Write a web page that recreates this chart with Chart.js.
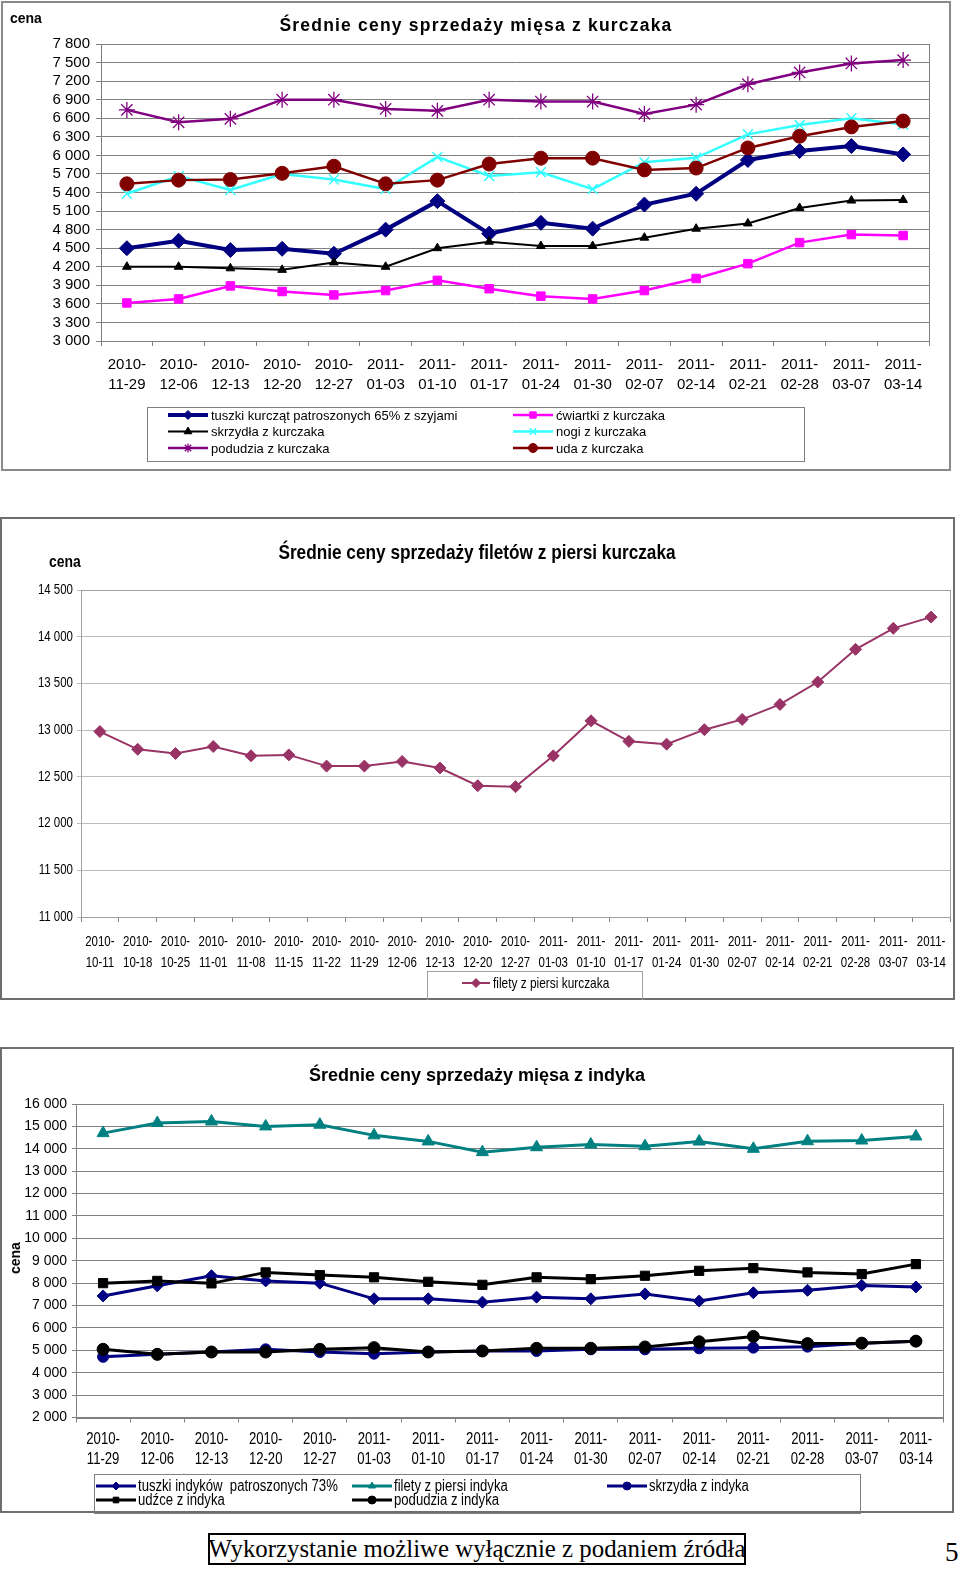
<!DOCTYPE html>
<html>
<head>
<meta charset="utf-8">
<script src="https://cdn.jsdelivr.net/npm/chart.js@4.4.1/dist/chart.umd.min.js"></script>
<style>
  body { margin: 0; background: #fff; }
  #page { position: relative; width: 960px; height: 1571px; overflow: hidden; font-family: "Liberation Sans", Arial, sans-serif; }
  canvas, .txt, .panel { position: absolute; }
  .panel { box-sizing: border-box; border: 2px solid #6e6e6e; }
  .txt { white-space: nowrap; color: #000; line-height: 1; }
  .ttl { font-weight: bold; transform: translate(-50%, -50%); }
  #foot { left: 208px; top: 1533px; width: 538px; height: 32px; box-sizing: border-box; border: 2px solid #000; }
  #foot span { position: absolute; left: 50%; top: 50%; transform: translate(-50%, -50%) scaleX(0.955);
          font-family: "Liberation Serif", "Times New Roman", serif; font-size: 26px; }
</style>
</head>
<body>
<div id="page">
  <div class="panel" style="left:1px;top:1px;width:950px;height:470px;border-color:#8a8a8a"></div>
  <div class="panel" style="left:0px;top:517px;width:955px;height:483px"></div>
  <div class="panel" style="left:0px;top:1047px;width:954px;height:466px"></div>

  <canvas id="c1" width="960" height="475" style="left:0;top:0"></canvas>
  <canvas id="c2" width="960" height="485" style="left:0;top:515px"></canvas>
  <canvas id="c3" width="960" height="470" style="left:0;top:1045px"></canvas>

  <div class="txt" style="left:10px;top:11px;font-size:14px;font-weight:bold">cena</div>
  <div class="txt ttl" style="left:476px;top:26px;font-size:17.5px;letter-spacing:1.2px">Średnie ceny sprzedaży mięsa z kurczaka</div>

  <div class="txt" style="left:49px;top:553px;font-size:17px;font-weight:bold;transform:scaleX(0.82);transform-origin:0 0">cena</div>
  <div class="txt ttl" style="left:477px;top:551px;font-size:21px;transform:translate(-50%,-50%) scaleX(0.82)">Średnie ceny sprzedaży filetów z piersi kurczaka</div>

  <div class="txt" style="left:15px;top:1258px;font-size:14px;font-weight:bold;transform:translate(-50%,-50%) rotate(-90deg)">cena</div>
  <div class="txt ttl" style="left:477px;top:1075px;font-size:18px">Średnie ceny sprzedaży mięsa z indyka</div>

  <div class="txt" id="foot"><span>Wykorzystanie możliwe wyłącznie z podaniem źródła</span></div>
  <div class="txt" style="left:945px;top:1539px;font-family:'Liberation Serif',serif;font-size:27px">5</div>
</div>
<script>
// ---- data ----
const weeksShort = ['2010-11-29','2010-12-06','2010-12-13','2010-12-20','2010-12-27','2011-01-03','2011-01-10','2011-01-17',
  '2011-01-24','2011-01-30','2011-02-07','2011-02-14','2011-02-21','2011-02-28','2011-03-07','2011-03-14'];
const weeksLong = ['2010-10-11','2010-10-18','2010-10-25','2010-11-01','2010-11-08','2010-11-15','2010-11-22','2010-11-29',
  '2010-12-06','2010-12-13','2010-12-20','2010-12-27','2011-01-03','2011-01-10','2011-01-17','2011-01-24','2011-01-30',
  '2011-02-07','2011-02-14','2011-02-21','2011-02-28','2011-03-07','2011-03-14'];

// chicken
const tuszkiKurczat = [4500,4620,4470,4490,4410,4800,5260,4735,4910,4815,5205,5380,5925,6070,6150,6015];
const cwiartki = [3615,3680,3890,3800,3745,3815,3980,3845,3725,3680,3815,4010,4250,4590,4720,4705];
const skrzydlaKurczak = [4200,4200,4175,4150,4270,4200,4500,4605,4535,4535,4670,4815,4900,5150,5270,5280];
const nogi = [5380,5665,5440,5700,5610,5455,5975,5668,5727,5455,5890,5960,6340,6490,6600,6500];
const podudziaKurczak = [6735,6535,6590,6900,6900,6750,6720,6900,6870,6870,6670,6820,7150,7340,7485,7540];
const uda = [5540,5600,5610,5710,5825,5540,5600,5860,5955,5955,5765,5795,6120,6310,6460,6555];

// chicken breast fillets
const filetyKurczak = [12985,12795,12750,12825,12725,12735,12615,12615,12665,12595,12405,12395,12725,13100,12880,12850,
  13005,13115,13275,13515,13865,14090,14210];

// turkey
const tuszkiIndyk = [7430,7880,8330,8100,8000,7300,7300,7150,7375,7300,7520,7200,7570,7680,7900,7830];
const filetyIndyk = [14700,15150,15220,15000,15075,14600,14330,13850,14070,14190,14115,14325,14000,14340,14370,14550];
const skrzydlaIndyk = [4710,4820,4925,5045,4925,4850,4925,4970,4970,5045,5045,5090,5120,5165,5320,5410];
const udzce = [8000,8100,7990,8480,8360,8260,8060,7925,8260,8180,8330,8550,8670,8480,8405,8850];
const podudziaIndyk = [5045,4820,4925,4925,5045,5120,4925,4970,5090,5090,5150,5380,5620,5300,5320,5410];

// y ticks
const yTicks1 = {min: 3000, max: 7800, step: 300};
const yTicks2 = {min: 11000, max: 14500, step: 500};
const yTicks3 = {min: 2000, max: 16000, step: 1000};

// ---- helpers ----
const splitDate = d => [d.slice(0, 5), d.slice(5)];
const fmt = v => String(v).replace(/\B(?=(\d{3})+(?!\d))/g, ' ');
const ARIAL = '"Liberation Sans", Arial, sans-serif';
const NARROW = 0.82; // horizontal squeeze used to imitate Arial Narrow

function series(label, data, color, width, style, r, bw) {
  return { label, data, borderColor: color, backgroundColor: color, pointBackgroundColor: color,
    pointBorderColor: color, borderWidth: width, pointStyle: style, pointRadius: r,
    pointBorderWidth: bw || 1, tension: 0 };
}

function squeezedText(ctx, text, x, y, sx) {
  ctx.save();
  ctx.translate(x, y);
  ctx.scale(sx, 1);
  ctx.fillText(text, 0, 0);
  ctx.restore();
}

const frame = {
  id: 'frame',
  beforeDatasetsDraw(chart, args, o) {
    if (!o.color) return;
    const a = chart.chartArea, ctx = chart.ctx;
    ctx.save();
    ctx.strokeStyle = o.color;
    ctx.lineWidth = 1;
    ctx.strokeRect(Math.round(a.left) + 0.5, Math.round(a.top) + 0.5, Math.round(a.right - a.left), Math.round(a.bottom - a.top));
    ctx.restore();
  }
};

// tick labels drawn by hand when they need the narrow look
const narrowTicks = {
  id: 'narrowTicks',
  afterDraw(chart, args, o) {
    const ctx = chart.ctx;
    ctx.save();
    ctx.fillStyle = '#000';
    ctx.textBaseline = 'middle';
    if (o.x) {
      const s = chart.scales.x;
      ctx.font = o.x.font;
      ctx.textAlign = 'center';
      s.ticks.forEach((t, i) => {
        const px = s.getPixelForTick(i);
        chart.data.labels[i].forEach((ln, k) => squeezedText(ctx, ln, px, chart.chartArea.bottom + o.x.dy + k * o.x.lh, NARROW));
      });
    }
    if (o.y) {
      const s = chart.scales.y;
      ctx.font = o.y.font;
      ctx.textAlign = 'right';
      s.ticks.forEach((t, i) => squeezedText(ctx, fmt(t.value), o.y.x, s.getPixelForTick(i), NARROW));
    }
    ctx.restore();
  }
};

const boxLegend = {
  id: 'boxLegend',
  afterDraw(chart, args, o) {
    if (!o.items) return;
    const ctx = chart.ctx;
    ctx.save();
    ctx.strokeStyle = o.border;
    ctx.lineWidth = 1;
    ctx.strokeRect(o.x + 0.5, o.y + 0.5, o.w, o.h);
    ctx.font = o.font;
    ctx.textBaseline = 'middle';
    ctx.textAlign = 'left';
    o.items.forEach(([di, x, y]) => {
      const ds = chart.data.datasets[di];
      ctx.strokeStyle = ds.borderColor;
      ctx.lineWidth = ds.borderWidth;
      ctx.beginPath(); ctx.moveTo(x, y); ctx.lineTo(x + o.len, y); ctx.stroke();
      ctx.fillStyle = ds.pointBackgroundColor;
      ctx.strokeStyle = ds.pointBorderColor;
      ctx.lineWidth = ds.pointBorderWidth;
      Chart.helpers.drawPoint(ctx, {pointStyle: ds.pointStyle, radius: o.r, borderWidth: ds.pointBorderWidth, rotation: 0}, x + o.len / 2, y);
      ctx.fillStyle = '#000';
      squeezedText(ctx, ds.label, x + o.len + o.gap, y + 1, o.sx || 1);
    });
    ctx.restore();
  }
};

function makeChart(id, labels, datasets, cfg) {
  datasets.forEach((d, i) => d.order = datasets.length - i);
  return new Chart(document.getElementById(id), {
    type: 'line',
    data: { labels: labels.map(splitDate), datasets },
    plugins: [frame, boxLegend, narrowTicks],
    options: {
      responsive: false, animation: false, devicePixelRatio: 1,
      layout: { padding: cfg.pad },
      plugins: { legend: { display: false }, tooltip: { enabled: false }, title: { display: false },
        frame: { color: cfg.frame }, boxLegend: cfg.legend, narrowTicks: cfg.narrow || {} },
      scales: {
        x: {
          offset: true,
          grid: { offset: true, drawOnChartArea: false, tickLength: cfg.xTick, color: cfg.axis },
          border: { color: cfg.axis },
          ticks: { display: !(cfg.narrow && cfg.narrow.x), autoSkip: false, maxRotation: 0, color: '#000', padding: cfg.xPad,
            font: { family: ARIAL, size: cfg.xSize, lineHeight: cfg.xLine } },
          afterFit: s => { s.height = cfg.xH; }
        },
        y: {
          min: cfg.y.min, max: cfg.y.max,
          grid: { color: cfg.grid, tickLength: cfg.yTick, lineWidth: 1 },
          border: { color: cfg.axis },
          ticks: { display: !(cfg.narrow && cfg.narrow.y), autoSkip: false, stepSize: cfg.y.step, color: '#000',
            padding: cfg.yPad, callback: fmt, font: { family: ARIAL, size: cfg.ySize } },
          afterFit: s => { s.width = cfg.yW; }
        }
      }
    }
  });
}

// ---- chart 1: chicken ----
makeChart('c1', weeksShort, [
  series('tuszki kurcząt patroszonych 65% z szyjami', tuszkiKurczat, '#000080', 4, 'rectRot', 7.5),
  series('ćwiartki z kurczaka', cwiartki, '#ff00ff', 2.5, 'rect', 6),
  series('skrzydła z kurczaka', skrzydlaKurczak, '#000000', 2, 'triangle', 5),
  series('nogi z kurczaka', nogi, '#33ffff', 2.5, 'crossRot', 7, 1.5),
  series('podudzia z kurczaka', podudziaKurczak, '#800080', 2.5, 'star', 8, 1.3),
  series('uda z kurczaka', uda, '#800000', 2.5, 'circle', 7)
], {
  pad: { top: 44, left: 0, right: 31, bottom: 0 }, yW: 101, xH: 134,
  y: yTicks1, frame: '#808080', grid: '#808080', axis: '#808080',
  xTick: 5, yTick: 5, xPad: 9, yPad: 6, xSize: 15, xLine: 1.33, ySize: 15,
  legend: { x: 147, y: 407, w: 657, h: 54, border: '#808080', font: '13px ' + ARIAL, len: 40, gap: 3, r: 4.5,
    items: [[0, 168, 415], [2, 168, 431.5], [4, 168, 448], [1, 513, 415], [3, 513, 431.5], [5, 513, 448]] }
});

// ---- chart 2: chicken breast fillets ----
makeChart('c2', weeksLong, [
  series('filety z piersi kurczaka', filetyKurczak, '#993366', 2, 'rectRot', 6)
], {
  pad: { top: 75, left: 0, right: 10, bottom: 0 }, yW: 81, xH: 83,
  y: yTicks2, frame: '#a0a0a0', grid: '#bcbcbc', axis: '#808080',
  xTick: 5, yTick: 4, xPad: 9, yPad: 4, xSize: 14, xLine: 1.5, ySize: 14,
  narrow: { x: { font: '14px ' + ARIAL, dy: 25, lh: 21 }, y: { font: '14px ' + ARIAL, x: 73 } },
  legend: { x: 427, y: 456, w: 215, h: 30, border: '#a0a0a0', font: '14.5px ' + ARIAL, len: 28, gap: 3, r: 4.5, sx: NARROW,
    items: [[0, 462, 468]] }
});

// ---- chart 3: turkey ----
makeChart('c3', weeksShort, [
  series('tuszki indyków  patroszonych 73%', tuszkiIndyk, '#000080', 3, 'rectRot', 6),
  series('filety z piersi indyka', filetyIndyk, '#008080', 3, 'triangle', 7),
  series('skrzydła z indyka', skrzydlaIndyk, '#000080', 3, 'circle', 5.5),
  series('udźce z indyka', udzce, '#000000', 3, 'rect', 6.5),
  series('podudzia z indyka', podudziaIndyk, '#000000', 3, 'circle', 6)
], {
  pad: { top: 59, left: 0, right: 17, bottom: 0 }, yW: 76, xH: 97.5,
  y: yTicks3, frame: '#808080', grid: '#808080', axis: '#808080',
  xTick: 5, yTick: 4, xPad: 6, yPad: 5, xSize: 15, xLine: 1.33, ySize: 14,
  narrow: { x: { font: '16px ' + ARIAL, dy: 22, lh: 20 } },
  legend: { x: 94, y: 429, w: 766, h: 39, border: '#808080', font: '16px ' + ARIAL, len: 40, gap: 2, r: 4, sx: NARROW,
    items: [[0, 96, 441], [3, 96, 455], [1, 352, 441], [4, 352, 455], [2, 607, 441]] }
});
</script>
</body>
</html>
